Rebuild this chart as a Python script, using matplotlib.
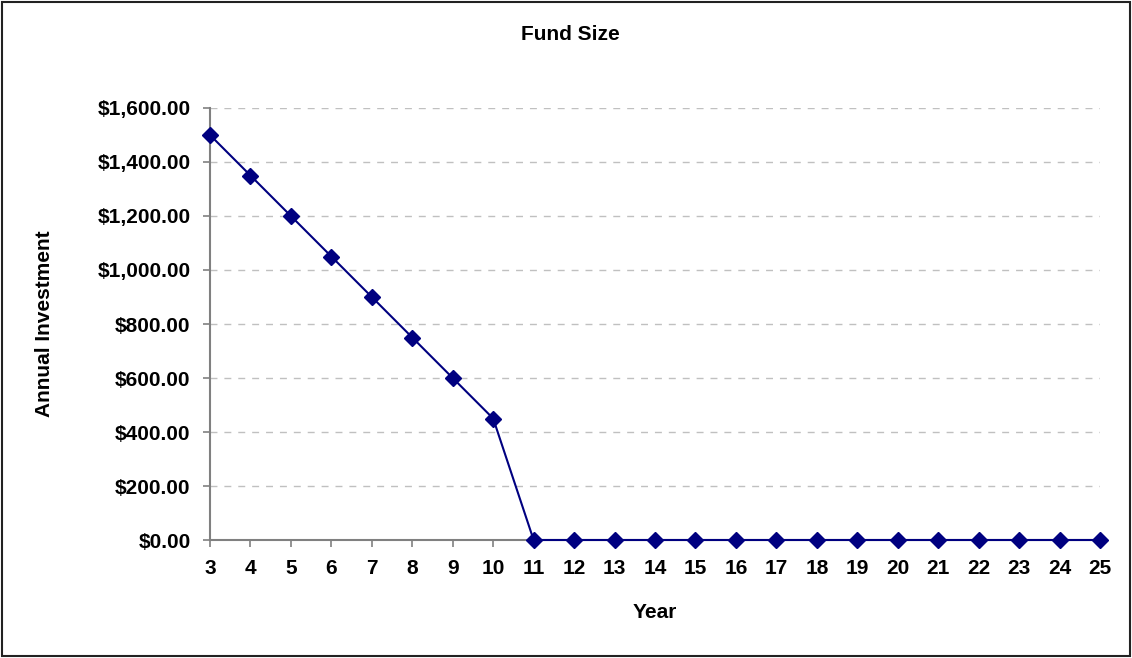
import matplotlib.pyplot as plt
from matplotlib.patches import Rectangle
from matplotlib.ticker import FuncFormatter

years = list(range(3, 26))
fund_size = [1500, 1350, 1200, 1050, 900, 750, 600, 450] + [0] * 15

plt.rcParams['font.family'] = ['Liberation Sans', 'DejaVu Sans']
plt.rcParams['font.weight'] = 'bold'

W, H = 1132, 658
fig = plt.figure(figsize=(W / 100, H / 100), dpi=100)
ax = fig.add_axes([210 / W, 1 - 540 / H, (1100 - 210) / W, (540 - 108) / H])

# outer chart border
fig.patches.append(Rectangle((0.002, 0.003), 0.996, 0.994, transform=fig.transFigure,
                             fill=False, edgecolor='#222222', linewidth=1.5))

ax.plot(years, fund_size, color='#000080', linewidth=1.5, marker='D',
        markersize=8, markerfacecolor='#000080', markeredgecolor='#000080',
        clip_on=False, zorder=3)

ax.set_xlim(3, 25)
ax.set_ylim(0, 1600)
ax.set_xticks(years)
ax.set_yticks(range(0, 1601, 200))
ax.yaxis.set_major_formatter(FuncFormatter(lambda v, p: '${:,.2f}'.format(v)))

ax.grid(axis='y', color='#c0c0c0', linestyle=(0, (5, 5)), linewidth=1)
ax.set_axisbelow(True)
for s in ['top', 'right']:
    ax.spines[s].set_visible(False)
for s in ['left', 'bottom']:
    ax.spines[s].set_color('#808080')
    ax.spines[s].set_linewidth(1.5)
ax.tick_params(axis='both', direction='out', length=5, width=1.2, color='#808080',
               labelsize=15)
ax.tick_params(axis='x', pad=9)
ax.tick_params(axis='y', pad=9)
for lbl in ax.get_xticklabels() + ax.get_yticklabels():
    lbl.set_fontweight('bold')

fig.text(570 / W, 1 - 35 / H, 'Fund Size', fontsize=15, fontweight='bold',
         ha='center', va='center')
fig.text(655 / W, 1 - 612 / H, 'Year', fontsize=15, fontweight='bold',
         ha='center', va='center')
fig.text(45 / W, 1 - 324 / H, 'Annual Investment', fontsize=15, fontweight='bold',
         ha='center', va='center', rotation=90)

fig.savefig('out.png', dpi=100)
